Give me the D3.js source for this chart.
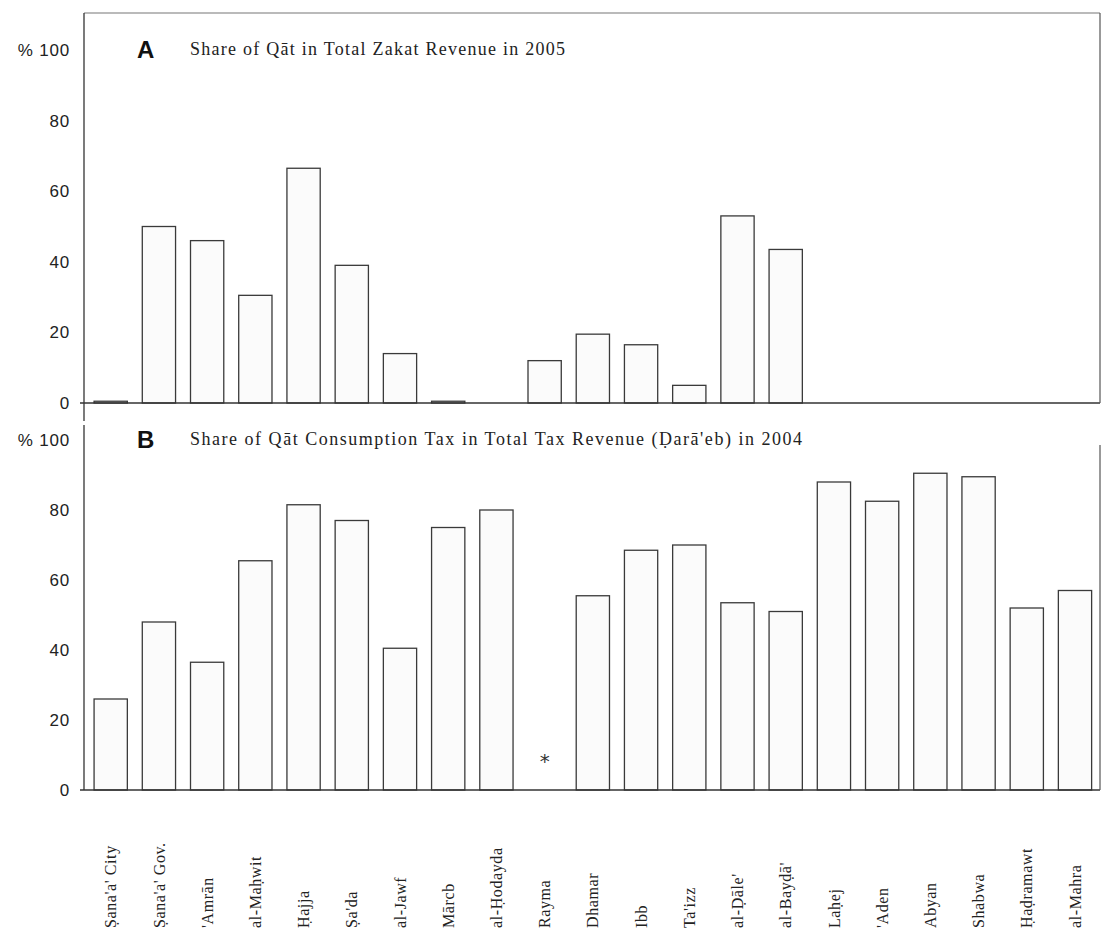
<!DOCTYPE html>
<html>
<head>
<meta charset="utf-8">
<script src="https://cdn.jsdelivr.net/npm/d3@7"></script>
<style>
  body { margin: 0; background: #fff; }
  svg { display: block; }
</style>
</head>
<body>
<div id="chart"></div>
<script>
// governorates (x axis)
var regions = ["Ṣana'a' City", "Ṣana'a' Gov.", "'Amrān", "al-Maḥwit", "Ḥajja", "Ṣa'da",
               "al-Jawf", "Mārcb", "al-Ḥodayda", "Rayma", "Dhamar", "Ibb", "Ta'izz",
               "al-Ḍāle'", "al-Bayḍā'", "Laḥej", "'Aden", "Abyan", "Shabwa",
               "Ḥaḍramawt", "al-Mahra"];

// A: share of qat in total zakat revenue 2005 (%)
var zakat2005 = [0.5, 50, 46, 30.5, 66.5, 39, 14, 0.5, 0, 12, 19.5, 16.5, 5,
                 53, 43.5, 0, 0, 0, 0, 0, 0];

// B: share of qat consumption tax in total tax revenue 2004 (%), null = no data
var tax2004 = [26, 48, 36.5, 65.5, 81.5, 77, 40.5, 75, 80, null, 55.5, 68.5, 70,
               53.5, 51, 88, 82.5, 90.5, 89.5, 52, 57];

var yTicks = [0, 20, 40, 60, 80, 100];

var width = 1103, height = 934;
var left = 84, right = 1100;

var svg = d3.select("#chart").append("svg")
    .attr("width", width)
    .attr("height", height);

var x = d3.scaleBand()
    .domain(regions)
    .range([86.6, 1099.1])
    .paddingInner(0.31)
    .paddingOuter(0.155);

var yA = d3.scaleLinear().domain([0, 100]).range([403, 50]);
var yB = d3.scaleLinear().domain([0, 100]).range([790, 440]);

function tickFmt(d) { return d === 100 ? "% 100" : d; }

function drawPanel(y, values, letter, title, top) {
  var g = svg.append("g");

  // bars
  g.selectAll("rect.bar")
    .data(values.map(function(v, i) { return {k: regions[i], v: v}; })
                .filter(function(d) { return d.v !== null; }))
    .enter().append("rect")
      .attr("class", "bar")
      .attr("x", function(d) { return x(d.k); })
      .attr("width", x.bandwidth())
      .attr("y", function(d) { return y(d.v); })
      .attr("height", function(d) { return y(0) - y(d.v); })
      .style("fill", "#fbfbfb")
      .style("stroke", "#3a3a3a")
      .style("stroke-width", 1.3);

  // y axis
  var ax = g.append("g")
    .attr("transform", "translate(" + left + ",0)")
    .call(d3.axisLeft(y).tickValues(yTicks).tickFormat(tickFmt).tickSize(0).tickPadding(14));
  ax.select(".domain").remove();
  ax.selectAll("text")
    .style("font-family", "'Liberation Sans', Arial, sans-serif")
    .style("font-size", "17px")
    .style("letter-spacing", "0.8px")
    .style("fill", "#222");

  g.append("line")
    .attr("x1", left).attr("x2", left)
    .attr("y1", top).attr("y2", y(0) + (letter === "A" ? 18 : 0))
    .style("stroke", "#333").style("stroke-width", 1.3);

  // baseline
  g.append("line")
    .attr("x1", left - 4).attr("x2", right)
    .attr("y1", y(0)).attr("y2", y(0))
    .style("stroke", "#333").style("stroke-width", 1.3);

  // right frame
  g.append("line")
    .attr("x1", right).attr("x2", right)
    .attr("y1", top + (letter === "A" ? 0 : 20)).attr("y2", y(0))
    .style("stroke", "#555").style("stroke-width", 1.2);

  g.append("text")
    .text(letter)
    .attr("x", 137)
    .attr("y", y(100) + 8)
    .style("font-family", "'Liberation Sans', Arial, sans-serif")
    .style("font-weight", "bold")
    .style("font-size", "24px")
    .style("fill", "#111");

  return g.append("text")
    .text(title)
    .attr("x", 190)
    .attr("y", y(100) + 5)
    .style("font-family", "'Liberation Serif', 'Times New Roman', serif")
    .style("font-size", "18px")
    .style("fill", "#222");
}

// panel A with a top frame line
svg.append("line")
  .attr("x1", left).attr("x2", right)
  .attr("y1", 13).attr("y2", 13)
  .style("stroke", "#777").style("stroke-width", 1.2);

drawPanel(yA, zakat2005, "A", "Share of Qāt in Total Zakat Revenue in 2005", 13)
  .attr("textLength", 375).attr("lengthAdjust", "spacing");
drawPanel(yB, tax2004, "B", "Share of Qāt Consumption Tax in Total Tax Revenue (Ḍarā'eb) in 2004", 425)
  .attr("textLength", 612).attr("lengthAdjust", "spacing");

// no data marker for Rayma in panel B
tax2004.forEach(function(v, i) {
  if (v === null) {
    svg.append("text")
      .text("*")
      .attr("x", x(regions[i]) + x.bandwidth() / 2)
      .attr("y", yB(0) - 22)
      .attr("text-anchor", "middle")
      .style("font-family", "'DejaVu Sans', sans-serif")
      .style("font-size", "20px")
      .style("fill", "#333");
  }
});

// rotated category labels
svg.append("g").selectAll("text")
  .data(regions)
  .enter().append("text")
    .text(function(d) { return d; })
    .attr("transform", function(d) {
      return "translate(" + (x(d) + x.bandwidth() / 2) + ",928) rotate(-90)";
    })
    .attr("dy", "0.35em")
    .style("font-family", "'Liberation Serif', 'Times New Roman', serif")
    .style("font-size", "16px")
    .style("letter-spacing", "0.6px")
    .style("fill", "#222");
</script>
</body>
</html>
